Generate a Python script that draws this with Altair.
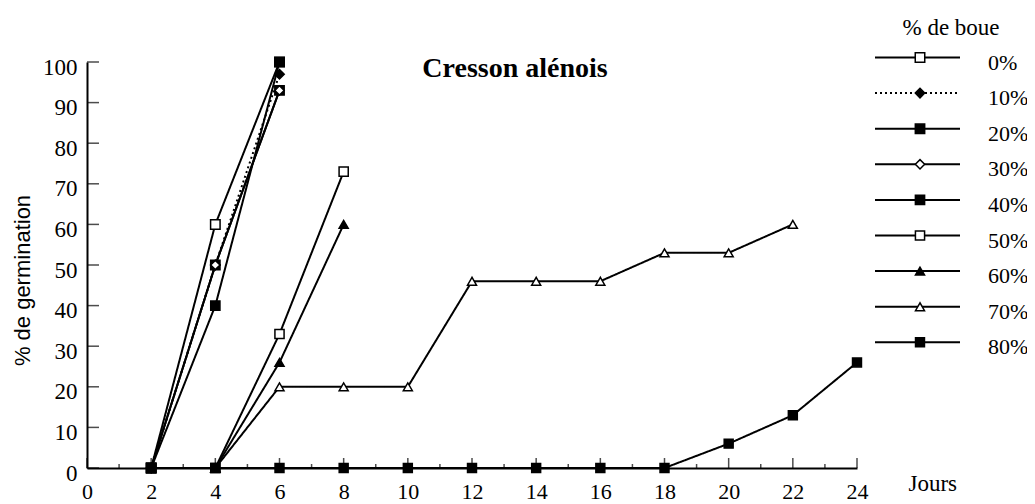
import altair as alt
import pandas as pd

# ---- data ----
series_names = ["0%", "10%", "20%", "30%", "40%", "50%", "60%", "70%", "80%"]

days_0 = [2, 4, 6]
vals_0 = [0, 60, 100]
days_10 = [2, 4, 6]
vals_10 = [0, 50, 97]
days_20 = [2, 4, 6]
vals_20 = [0, 50, 93]
days_30 = [2, 4, 6]
vals_30 = [0, 50, 93]
days_40 = [2, 4, 6]
vals_40 = [0, 40, 100]
days_50 = [4, 6, 8]
vals_50 = [0, 33, 73]
days_60 = [4, 6, 8]
vals_60 = [0, 26, 60]
days_70 = [4, 6, 8, 10, 12, 14, 16, 18, 20, 22]
vals_70 = [0, 20, 20, 20, 46, 46, 46, 53, 53, 60]
days_80 = [2, 4, 6, 8, 10, 12, 14, 16, 18, 20, 22, 24]
vals_80 = [0, 0, 0, 0, 0, 0, 0, 0, 0, 6, 13, 26]

x_label_values = [0, 2, 4, 6, 8, 10, 12, 14, 16, 18, 20, 22, 24]
x_minor_values = [1, 3, 5, 7, 9, 11, 13, 15, 17, 19, 21, 23]
y_label_values = [0, 10, 20, 30, 40, 50, 60, 70, 80, 90, 100]

title_text = "Cresson alénois"
legend_title = "% de boue"
x_title = "Jours"
y_title = "% de germination"

# ---- styles ----
shapes = ["square", "diamond", "square", "diamond", "square", "square",
          "triangle-up", "triangle-up", "square"]
fills = ["white", "black", "black", "white", "black", "white", "black", "white", "black"]
sizes = [90, 80, 130, 70, 100, 90, 80, 80, 100]
dashes = [[1, 0], [2, 3], [1, 0], [1, 0], [1, 0], [1, 0], [1, 0], [1, 0], [1, 0]]

all_days = [days_0, days_10, days_20, days_30, days_40, days_50, days_60, days_70, days_80]
all_vals = [vals_0, vals_10, vals_20, vals_30, vals_40, vals_50, vals_60, vals_70, vals_80]

rows = []
for name, ds, vs in zip(series_names, all_days, all_vals):
    for d, v in zip(ds, vs):
        rows.append({"serie": name, "day": d, "pct": v})
df = pd.DataFrame(rows)

legend_df = pd.DataFrame({"serie": series_names, "row": list(range(len(series_names)))})

SERIF = "Liberation Serif, Times New Roman, serif"
SANS = "Liberation Sans, Arial, sans-serif"

x_scale = alt.Scale(domain=[0, 24], nice=False, zero=False)
y_scale = alt.Scale(domain=[0, 100], nice=False)

shape_enc = alt.Shape("serie:N", scale=alt.Scale(domain=series_names, range=shapes), legend=None)
fill_enc = alt.Fill("serie:N", scale=alt.Scale(domain=series_names, range=fills), legend=None)
size_enc = alt.Size("serie:N", scale=alt.Scale(domain=series_names, range=sizes), legend=None)
dash_enc = alt.StrokeDash("serie:N", scale=alt.Scale(domain=series_names, range=dashes), legend=None)

x_axis = alt.Axis(
    values=x_label_values, format="d", grid=False, ticks=False, tickSize=0,
    labelFont=SERIF, labelFontSize=22, labelColor="black", labelPadding=13,
    labelFlush=False, labelOverlap=False,
    domainColor="black", domainWidth=2,
    title=x_title, titleFont=SERIF, titleFontSize=23, titleFontWeight="normal",
    titleColor="black", titleX=821, titleY=22, titleAlign="left",
    titleBaseline="alphabetic",
)
y_axis = alt.Axis(
    values=y_label_values, format="d", grid=False, ticks=False, tickSize=0,
    labelFont=SERIF, labelFontSize=23, labelColor="black", labelPadding=10,
    labelOffset=5, labelFlush=False, labelOverlap=False,
    domainColor="black", domainWidth=2,
    title=y_title, titleFont=SANS, titleFontSize=22, titleFontWeight="normal",
    titleColor="black", titleX=-58, titleY=218, titleAngle=270,
    titleAlign="center", titleBaseline="alphabetic",
)

base = alt.Chart(df)

lines = base.mark_line(color="black", strokeWidth=2).encode(
    x=alt.X("day:Q", scale=x_scale, axis=x_axis),
    y=alt.Y("pct:Q", scale=y_scale, axis=y_axis),
    detail="serie:N",
    strokeDash=dash_enc,
)

points = base.mark_point(filled=True, stroke="black", strokeWidth=1.5, opacity=1).encode(
    x=alt.X("day:Q", scale=x_scale),
    y=alt.Y("pct:Q", scale=y_scale),
    shape=shape_enc,
    fill=fill_enc,
    size=size_enc,
)

major_ticks = alt.Chart(pd.DataFrame({"t": x_label_values})).mark_tick(
    orient="vertical", size=10, thickness=1.5, color="black", yOffset=-5
).encode(x=alt.X("t:Q", scale=x_scale), y=alt.datum(0))

minor_ticks = alt.Chart(pd.DataFrame({"t": x_minor_values})).mark_tick(
    orient="vertical", size=4, thickness=1.5, color="black", yOffset=-2
).encode(x=alt.X("t:Q", scale=x_scale), y=alt.datum(0))

y_ticks = alt.Chart(pd.DataFrame({"t": y_label_values})).mark_tick(
    orient="horizontal", size=12, thickness=1.5, color="black", xOffset=6
).encode(y=alt.Y("t:Q", scale=y_scale), x=alt.datum(0))

title_mark = alt.Chart(pd.DataFrame({"t": [title_text]})).mark_text(
    font=SERIF, fontSize=28, fontWeight="bold", color="black",
    align="center", baseline="alphabetic"
).encode(text="t:N", x=alt.value(428), y=alt.value(15))

# ---- custom legend ----
leg_y = alt.Scale(domain=[0.126, 11.53], reverse=True, nice=False, zero=False)

leg_lines = alt.Chart(legend_df).mark_rule(color="black", strokeWidth=2).encode(
    x=alt.value(788), x2=alt.value(873),
    y=alt.Y("row:Q", scale=leg_y, axis=None),
    strokeDash=dash_enc,
)
leg_points = alt.Chart(legend_df).mark_point(filled=True, stroke="black", strokeWidth=1.5, opacity=1).encode(
    x=alt.value(833),
    y=alt.Y("row:Q", scale=leg_y, axis=None),
    shape=shape_enc, fill=fill_enc, size=size_enc,
)
leg_text = alt.Chart(legend_df).mark_text(
    font=SERIF, fontSize=22, color="black", align="left", baseline="middle", dy=5
).encode(
    x=alt.value(901),
    y=alt.Y("row:Q", scale=leg_y, axis=None),
    text="serie:N",
)
leg_title = alt.Chart(pd.DataFrame({"t": [legend_title]})).mark_text(
    font=SERIF, fontSize=23, color="black", align="center", baseline="alphabetic"
).encode(text="t:N", x=alt.value(864), y=alt.value(-27))

main = alt.layer(lines, points, major_ticks, minor_ticks, y_ticks, title_mark)
legend = alt.layer(leg_lines, leg_points, leg_text, leg_title)

chart = alt.layer(main, legend).resolve_scale(y="independent").properties(
    width=770, height=406,
    autosize=alt.AutoSizeParams(type="none"),
    padding={"left": 79, "top": 54, "right": 170, "bottom": 36},
    background="white",
).configure_view(strokeWidth=0)

chart.save("out.html", embed_options={"renderer": "svg", "actions": False})
